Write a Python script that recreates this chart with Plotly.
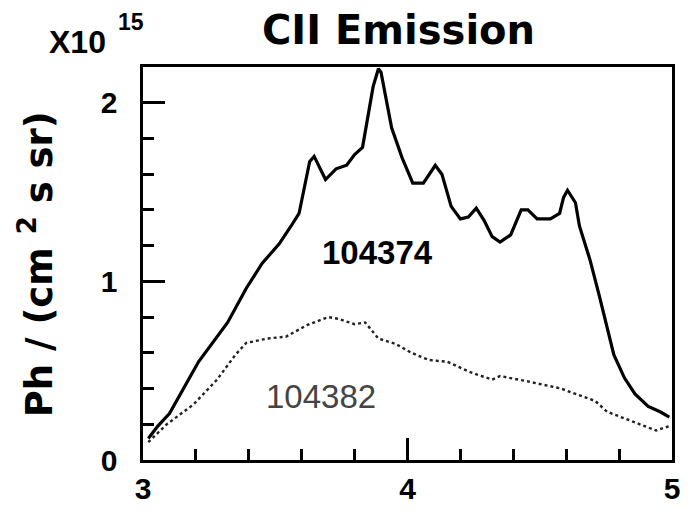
import plotly.graph_objects as go

# Series 104374 (solid)
x_374 = [3.02, 3.056, 3.10, 3.21, 3.32, 3.39, 3.45, 3.515, 3.56, 3.59, 3.63, 3.647, 3.69, 3.73,
         3.77, 3.80, 3.83, 3.85, 3.87, 3.89, 3.90, 3.94, 3.98, 4.02, 4.06, 4.105, 4.13, 4.165,
         4.20, 4.23, 4.26, 4.29, 4.32, 4.35, 4.39, 4.43, 4.455, 4.49, 4.54, 4.575, 4.59, 4.605,
         4.635, 4.65, 4.69, 4.725, 4.755, 4.78, 4.82, 4.86, 4.91, 4.955, 4.99]
y_374 = [0.12, 0.19, 0.26, 0.55, 0.77, 0.96, 1.10, 1.21, 1.31, 1.38, 1.67, 1.70, 1.57, 1.63,
         1.65, 1.71, 1.75, 1.93, 2.09, 2.19, 2.17, 1.86, 1.69, 1.55, 1.55, 1.65, 1.60, 1.42,
         1.35, 1.36, 1.41, 1.34, 1.25, 1.22, 1.26, 1.40, 1.40, 1.35, 1.35, 1.38, 1.47, 1.51,
         1.44, 1.31, 1.12, 0.92, 0.74, 0.59, 0.46, 0.37, 0.30, 0.27, 0.24]

# Series 104382 (dotted)
x_382 = [3.02, 3.09, 3.19, 3.28, 3.35, 3.39, 3.47, 3.54, 3.62, 3.70, 3.74, 3.80, 3.84, 3.89,
         3.955, 4.015, 4.08, 4.15, 4.24, 4.32, 4.35, 4.455, 4.58, 4.71, 4.755, 4.84, 4.94, 4.99]
y_382 = [0.10, 0.20, 0.31, 0.45, 0.59, 0.655, 0.68, 0.69, 0.755, 0.80, 0.79, 0.76, 0.77, 0.68,
         0.65, 0.60, 0.56, 0.55, 0.49, 0.45, 0.47, 0.44, 0.40, 0.33, 0.27, 0.22, 0.165, 0.19]

x_range = [3, 5]
y_range = [0, 2.2]

fig = go.Figure()
fig.add_trace(go.Scatter(x=x_382, y=y_382, mode="lines",
                         line=dict(color="#222222", width=2.4, dash="dot"), showlegend=False))
fig.add_trace(go.Scatter(x=x_374, y=y_374, mode="lines",
                         line=dict(color="black", width=3.2), showlegend=False))

tickfont = dict(family="Liberation Sans, Arial", size=30, color="black", weight="bold")

fig.update_xaxes(range=x_range, ticks="inside", ticklen=22, tickwidth=3, tickcolor="black",
                 showline=True, linecolor="black", linewidth=3, mirror=True,
                 dtick=1, tickfont=tickfont, showgrid=False, zeroline=False,
                 minor=dict(dtick=0.2, ticks="inside", ticklen=11, tickwidth=2.5, tickcolor="black"))
fig.update_yaxes(range=y_range, ticks="inside", ticklen=22, tickwidth=3, tickcolor="black",
                 showline=True, linecolor="black", linewidth=3, mirror=True,
                 dtick=1, tickfont=tickfont, showgrid=False, zeroline=False,
                 ticksuffix="\u00a0\u00a0",
                 minor=dict(dtick=0.2, ticks="inside", ticklen=11, tickwidth=2.5, tickcolor="black"))

def px_x(px):
    return (px - 143) / 533

def px_y(py):
    return (467 - py) / 400

ann = []
ann.append(dict(text="CII Emission", x=px_x(400), y=px_y(29), xref="paper", yref="paper",
                showarrow=False, xanchor="center", yanchor="middle",
                font=dict(family="DejaVu Sans", size=40, color="black", weight="bold")))
ann.append(dict(text="X10", x=px_x(46), y=px_y(42), xref="paper", yref="paper",
                showarrow=False, xanchor="left", yanchor="middle",
                font=dict(family="Liberation Sans, Arial", size=32, color="black", weight="bold")))
ann.append(dict(text="15", x=px_x(116), y=px_y(21), xref="paper", yref="paper",
                showarrow=False, xanchor="left", yanchor="middle",
                font=dict(family="Liberation Sans, Arial", size=23, color="black", weight="bold")))
ann.append(dict(text="Ph / (cm <sup>2</sup> s sr)", x=px_x(36), y=px_y(268), xref="paper", yref="paper",
                showarrow=False, xanchor="center", yanchor="middle", textangle=-90,
                font=dict(family="DejaVu Sans", size=37, color="black", weight="bold")))
ann.append(dict(text="104374", x=px_x(379), y=px_y(256), xref="paper", yref="paper",
                showarrow=False, xanchor="center", yanchor="middle",
                font=dict(family="Liberation Sans, Arial", size=33, color="black", weight="bold")))
ann.append(dict(text="104382", x=px_x(322), y=px_y(402), xref="paper", yref="paper",
                showarrow=False, xanchor="center", yanchor="middle",
                font=dict(family="Liberation Sans, Arial", size=33, color="#444444")))

fig.update_layout(width=692, height=517, margin=dict(l=143, r=16, t=67, b=50),
                  plot_bgcolor="white", paper_bgcolor="white", annotations=ann)

fig.write_html("out.html")
